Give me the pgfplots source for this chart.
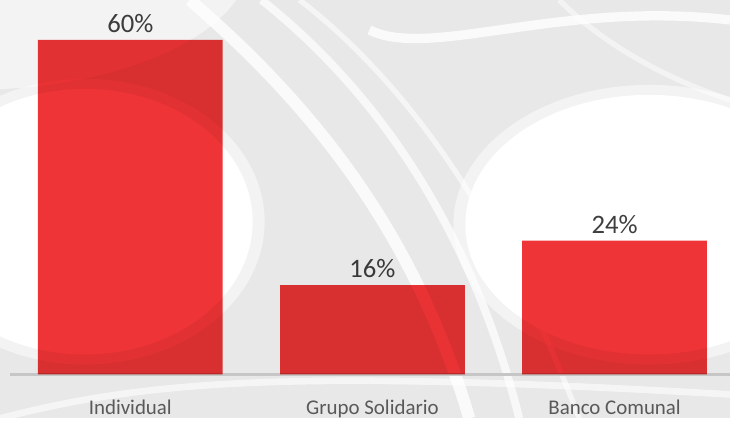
\documentclass[border=0pt]{standalone}
\usepackage{pgfplots}
\pgfplotsset{compat=1.18}
\usetikzlibrary{calc}
\usepackage{fontspec}
\setmainfont{Carlito}
\definecolor{barred}{HTML}{EE3436}
\definecolor{valtxt}{HTML}{3F3F3F}
\definecolor{cattxt}{HTML}{595959}
\definecolor{bggray}{HTML}{E8E8E8}
\definecolor{axgray}{HTML}{C6C6C6}
\pgfdeclarelayer{bg}
\pgfsetlayers{bg,main}

\begin{document}
\begin{tikzpicture}
\begin{axis}[
    name=ax,
    scale only axis,
    width=540.75pt, height=281.25pt,
    xmin=-0.4969, xmax=2.4763,
    ymin=0, ymax=67.16,
    axis y line=none,
    axis x line=bottom,
    x axis line style={-, draw=axgray, line width=1.6pt},
    xtick={0,1,2},
    xticklabels={Individual, Grupo Solidario, Banco Comunal},
    major tick length=0pt,
    xticklabel style={anchor=base, yshift=-30pt, text=cattxt,
        font=\fontsize{15.7}{18}\selectfont},
    ybar, bar width=0.763,
    /pgf/number format/assume math mode=true,
    nodes near coords={\pgfmathprintnumber{\pgfplotspointmeta}\%},
    nodes near coords style={anchor=base, yshift=5.5pt, text=valtxt,
        font=\fontsize{20}{24}\selectfont},
    clip=false,
]
\addplot[fill=barred, draw=none, blend mode=multiply] coordinates {(0,60) (1,16) (2,24)};
\end{axis}
\begin{pgfonlayer}{bg}
\begin{scope}[x=0.75pt, y=-0.75pt, shift={($(ax.north west)+(-7.5pt,0)$)}]
  \clip (0,0) rectangle (731,419);
  \fill[bggray] (0,0) rectangle (731,419);
  % decorative backdrop: two white domes and soft white streaks
  \fill[white, opacity=0.5] (-30,-40) ellipse [x radius=280, y radius=130];
  \fill[white, opacity=0.5] (85,222) ellipse [x radius=180, y radius=143];
  \fill[white] (85,222) ellipse [x radius=168, y radius=133];
  \fill[white, opacity=0.5] (650,225) ellipse [x radius=196, y radius=140];
  \fill[white] (650,225) ellipse [x radius=184, y radius=130];
  \draw[white, line width=9, opacity=0.8] (190,0) .. controls (330,120) and (420,250) .. (470,419);
  \draw[white, line width=6, opacity=0.7] (262,0) .. controls (400,110) and (480,260) .. (520,419);
  \draw[white, line width=4, opacity=0.6] (300,0) .. controls (430,100) and (520,260) .. (580,419);
  \draw[white, line width=7, opacity=0.8] (731,20) .. controls (560,0) and (430,60) .. (370,30);
  \draw[white, line width=5, opacity=0.6] (0,419) .. controls (150,380) and (300,370) .. (731,395);
  \draw[white, line width=4, opacity=0.5] (560,0) .. controls (620,60) and (700,90) .. (731,100);
\end{scope}
\end{pgfonlayer}
\end{tikzpicture}
\end{document}
